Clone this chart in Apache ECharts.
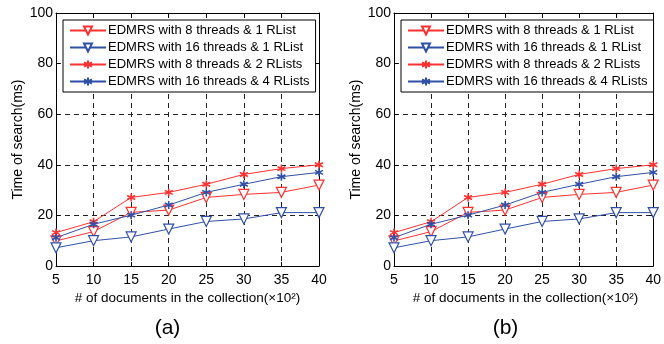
<!DOCTYPE html>
<html>
<head>
<meta charset="utf-8">
<script src="https://cdn.jsdelivr.net/npm/echarts@6/dist/echarts.min.js"></script>
<style>html,body{margin:0;padding:0;background:#fff}#c{width:664px;height:344px}</style>
</head>
<body>
<div id="c"></div>
<script>
const docs = [5, 10, 15, 20, 25, 30, 35, 40];
const t8x1 = [9.9, 13.6, 21.2, 22.1, 27.1, 28.3, 29.1, 32.0];
const t16x1 = [7.2, 10.0, 11.5, 14.6, 17.6, 18.6, 21.1, 21.1];
const t8x2 = [13.2, 17.5, 27.1, 29.1, 32.3, 36.2, 38.5, 40.0];
const t16x4 = [11.2, 16.5, 20.1, 24.1, 29.1, 32.3, 35.3, 37.0];
const seriesNames = [
  'EDMRS with 8 threads & 1 RList',
  'EDMRS with 16 threads & 1 RList',
  'EDMRS with 8 threads & 2 RLists',
  'EDMRS with 16 threads & 4 RLists'
];
const panelLabels = ['(a)', '(b)'];
const yTitle = 'Time of search(ms)';
const xTitle = '# of documents in the collection(×10²)';

const RED = '#ff3030';
const BLUE = '#3050a8';
const FONT = 'Liberation Sans, Arial, sans-serif';
const star = 'path://M5,0L5,10M0.67,2.5L9.33,7.5M0.67,7.5L9.33,2.5';

const grids = [
  {left: 56, top: 13, width: 263, height: 253},
  {left: 394, top: 13, width: 263, height: 253}
];

const xAxes = [], yAxes = [], series = [], legends = [], graphics = [];
grids.forEach((g, i) => {
  xAxes.push({
    type: 'value', gridIndex: i, min: 5, max: 40, interval: 5, position: 'bottom',
    axisLine: {show: true, onZero: false, lineStyle: {color: '#000', width: 1}},
    axisTick: {show: true, inside: true, length: 4, lineStyle: {color: '#000'}},
    axisLabel: {color: '#000', fontSize: 14, fontFamily: FONT, margin: 7},
    splitLine: {show: true, lineStyle: {color: '#222', type: [5, 4], width: 1}}
  });
  xAxes.push({
    type: 'value', gridIndex: i, min: 5, max: 40, interval: 5, position: 'top',
    axisLine: {show: true, onZero: false, lineStyle: {color: '#000', width: 1}},
    axisTick: {show: true, inside: true, length: 4, lineStyle: {color: '#000'}},
    axisLabel: {show: false}, splitLine: {show: false}
  });
  yAxes.push({
    type: 'value', gridIndex: i, min: 0, max: 100, interval: 20, position: 'left',
    name: yTitle, nameLocation: 'middle', nameGap: 31,
    nameTextStyle: {color: '#000', fontSize: 14, fontFamily: FONT},
    axisLine: {show: true, onZero: false, lineStyle: {color: '#000', width: 1}},
    axisTick: {show: true, inside: true, length: 4, lineStyle: {color: '#000'}},
    axisLabel: {color: '#000', fontSize: 14, fontFamily: FONT, margin: 3},
    splitLine: {show: true, lineStyle: {color: '#222', type: [5, 4], width: 1}}
  });
  yAxes.push({
    type: 'value', gridIndex: i, min: 0, max: 100, interval: 20, position: 'right',
    axisLine: {show: true, onZero: false, lineStyle: {color: '#000', width: 1}},
    axisTick: {show: true, inside: true, length: 4, lineStyle: {color: '#000'}},
    axisLabel: {show: false}, splitLine: {show: false}
  });
  const data = [t8x1, t16x1, t8x2, t16x4];
  const colors = [RED, BLUE, RED, BLUE];
  data.forEach((arr, k) => {
    const tri = k < 2;
    series.push({
      type: 'line', name: seriesNames[k], xAxisIndex: i * 2, yAxisIndex: i * 2,
      data: docs.map((d, j) => [d, arr[j]]),
      symbol: tri ? 'triangle' : star,
      symbolRotate: tri ? 180 : 0,
      symbolSize: tri ? 10 : 8,
      showAllSymbol: true,
      lineStyle: {color: colors[k], width: 1},
      itemStyle: tri
        ? {color: '#fff', borderColor: colors[k], borderWidth: 1.2}
        : {color: colors[k], borderColor: colors[k], borderWidth: 1.6},
      emphasis: {disabled: true},
      z: 3
    });
  });
  legends.push({
    left: g.left + 7, top: 20, orient: 'vertical',
    data: seriesNames.map(n => ({name: n})),
    borderColor: '#000', borderWidth: 1, backgroundColor: '#fff',
    padding: [4, 6, 4, 6], itemGap: 4, itemWidth: 36, itemHeight: 10,
    textStyle: {color: '#000', fontSize: 13, fontFamily: FONT, lineHeight: 13, padding: [0, 0, 0, -3]},
    selectedMode: false, z: 10
  });
  graphics.push({
    type: 'text', x: g.left + g.width / 2, y: 298,
    style: {text: xTitle, fill: '#000', fontSize: 13.5, fontFamily: FONT, align: 'center', verticalAlign: 'middle', textAlign: 'center', textVerticalAlign: 'middle'}
  });
  graphics.push({
    type: 'text', x: g.left + g.width / 2 - 20, y: 328,
    style: {text: panelLabels[i], fill: '#000', fontSize: 21, fontFamily: FONT, align: 'center', verticalAlign: 'middle', textAlign: 'center', textVerticalAlign: 'middle'}
  });
});

const chart = echarts.init(document.getElementById('c'), null, {renderer: 'canvas'});
chart.setOption({
  animation: false,
  grid: grids.map(g => Object.assign({containLabel: false}, g)),
  xAxis: xAxes, yAxis: yAxes, series: series, legend: legends, graphic: graphics
});
</script>
</body>
</html>
